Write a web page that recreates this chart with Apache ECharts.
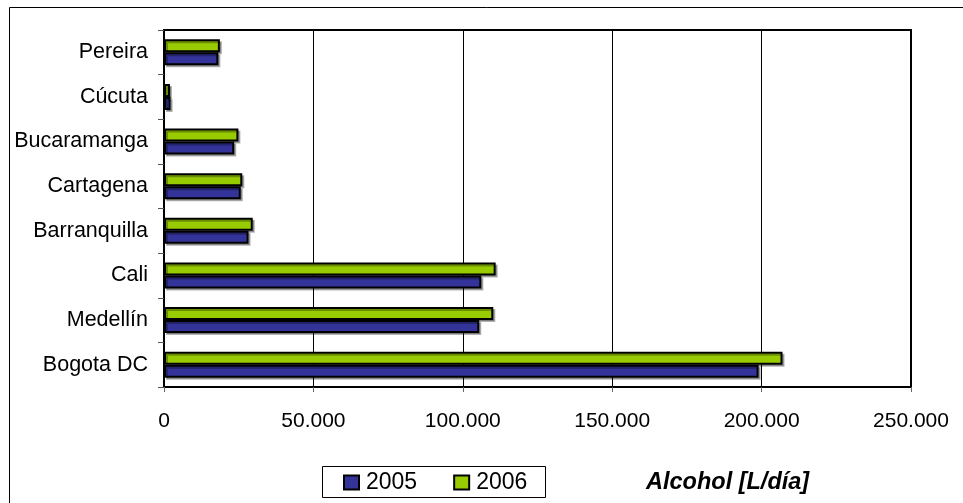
<!DOCTYPE html>
<html>
<head>
<meta charset="utf-8">
<script src="https://cdn.jsdelivr.net/npm/echarts@6/dist/echarts.min.js"></script>
<style>html,body{margin:0;padding:0;background:#fff}#c{width:963px;height:503px}</style>
</head>
<body>
<div id="c"></div>
<script>
const categories = ["Bogota DC", "Medellín", "Cali", "Barranquilla", "Cartagena", "Bucaramanga", "Cúcuta", "Pereira"];
const values2005 = [199000, 105500, 106200, 28300, 25700, 23500, 2200, 18200];
const values2006 = [207000, 110200, 111000, 29700, 26200, 24900, 2000, 18700];
const xTicks = [0, 50000, 100000, 150000, 200000, 250000];
const seriesNames = ["2005", "2006"];

const chart = echarts.init(document.getElementById('c'), null, {renderer: 'canvas'});
const fmt = v => String(v).replace(/\B(?=(\d{3})+(?!\d))/g, '.');
const barStyle = c => ({color: c, borderColor: '#000', borderWidth: 2, shadowColor: 'rgba(0,0,0,0.3)', shadowOffsetX: 2, shadowOffsetY: 2, shadowBlur: 0});
chart.setOption({
  animation: false,
  textStyle: {fontFamily: 'Liberation Sans, Arial, sans-serif'},
  graphic: [
    {type: 'rect', shape: {x: 9.5, y: 7.5, width: 1000, height: 600}, style: {fill: 'none', stroke: '#000', lineWidth: 1}, z: -10},
    {type: 'rect', shape: {x: 322.5, y: 466.5, width: 223, height: 31}, style: {fill: '#fff', stroke: '#000', lineWidth: 1}, z: -5}
  ],
  title: {
    text: 'Alcohol [L/día]', left: 646, top: 471, padding: 0,
    textStyle: {fontSize: 23.5, fontWeight: 'bold', fontStyle: 'italic', color: '#000', fontFamily: 'Liberation Sans, Arial, sans-serif'}
  },
  legend: {
    data: seriesNames, left: 343, top: 471, padding: 0, itemGap: 36,
    itemWidth: 15, itemHeight: 14, icon: 'rect',
    textStyle: {fontSize: 23, color: '#000', padding: [0, 0, 0, 2]}
  },
  grid: {left: 164, right: 52, top: 30, bottom: 116, show: true, borderColor: '#000', borderWidth: 2, backgroundColor: '#fff'},
  xAxis: {
    type: 'value', min: xTicks[0], max: xTicks[xTicks.length - 1], interval: 50000,
    axisLine: {show: true, lineStyle: {color: '#000', width: 2}},
    axisTick: {show: true, length: 5, lineStyle: {color: '#666'}},
    axisLabel: {fontSize: 21, color: '#000', margin: 24, formatter: fmt},
    splitLine: {show: true, lineStyle: {color: '#000', width: 1}}
  },
  yAxis: {
    type: 'category', data: categories,
    axisLine: {show: true, lineStyle: {color: '#000', width: 2}},
    axisTick: {show: true, length: 6, lineStyle: {color: '#555'}},
    axisLabel: {fontSize: 21.5, color: '#000', margin: 16}
  },
  series: [
    {name: seriesNames[1], type: 'bar', data: values2006, barWidth: 13, barGap: '0%', itemStyle: barStyle('#99CC00')},
    {name: seriesNames[0], type: 'bar', data: values2005, barWidth: 13, barGap: '0%', itemStyle: barStyle('#333399')}
  ]
});
</script>
</body>
</html>
